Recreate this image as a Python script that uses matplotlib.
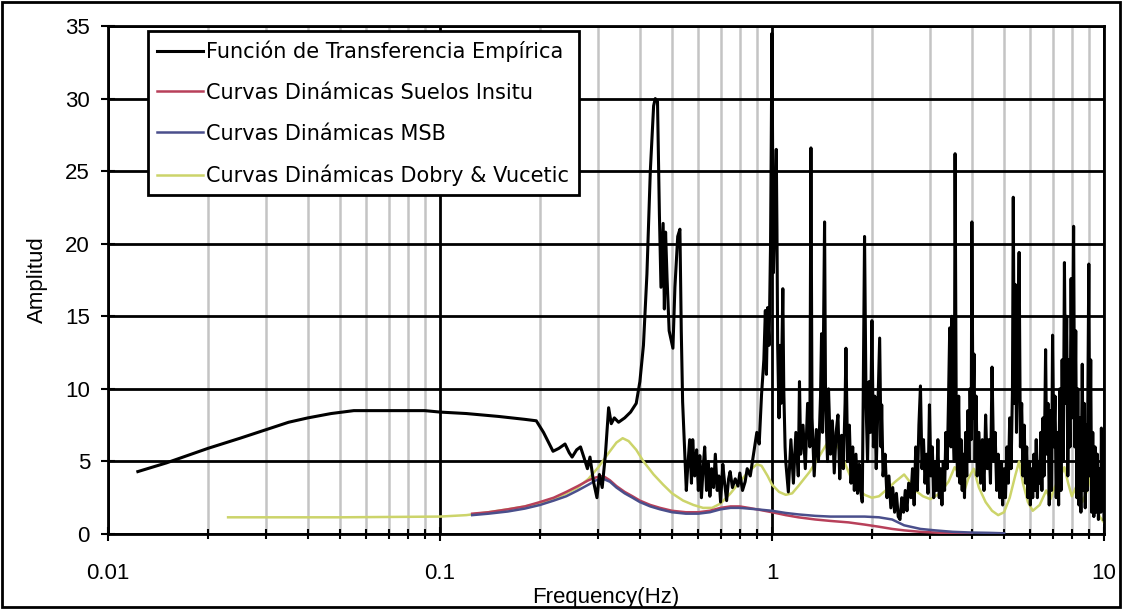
import matplotlib
matplotlib.use("Agg")
import matplotlib.pyplot as plt
from matplotlib.ticker import FixedLocator, FixedFormatter, NullFormatter
from matplotlib.patches import Rectangle

# ---- data ----
emp_freq = [0.0123, 0.015, 0.02, 0.025, 0.03, 0.035, 0.04, 0.047, 0.055, 0.07,
            0.09, 0.1, 0.12, 0.15, 0.18, 0.195, 0.205, 0.219, 0.228, 0.238,
            0.245, 0.25, 0.258, 0.265, 0.272, 0.278, 0.283, 0.29, 0.297, 0.302,
            0.308, 0.315, 0.322, 0.328, 0.335, 0.345, 0.36, 0.375, 0.39, 0.40,
            0.41, 0.42, 0.43, 0.44, 0.445, 0.452, 0.458, 0.463, 0.47, 0.474,
            0.478, 0.483, 0.49, 0.503, 0.51, 0.52, 0.528, 0.533, 0.538, 0.545,
            0.552, 0.557, 0.565, 0.572, 0.577, 0.585, 0.593, 0.60, 0.606, 0.613,
            0.62, 0.627, 0.635, 0.643, 0.65, 0.658, 0.667, 0.675, 0.684, 0.692,
            0.70, 0.711, 0.72, 0.73, 0.74, 0.748, 0.76, 0.775, 0.79, 0.80,
            0.815, 0.83, 0.842, 0.86, 0.88, 0.90, 0.915, 0.93, 0.945, 0.955,
            0.962, 0.97, 0.98, 0.99, 0.995, 1.0, 1.005, 1.01, 1.02, 1.03,
            1.035, 1.04, 1.05, 1.057, 1.065, 1.078, 1.085, 1.095,
            1.10, 1.12, 1.14, 1.16, 1.18, 1.20, 1.21, 1.22, 1.24, 1.26,
            1.28, 1.30, 1.31, 1.32, 1.34, 1.36, 1.38, 1.40, 1.41, 1.42,
            1.44, 1.45, 1.47, 1.48, 1.50, 1.52, 1.54, 1.56, 1.58, 1.60,
            1.62, 1.64, 1.66, 1.67, 1.69, 1.71, 1.73, 1.75, 1.77, 1.79,
            1.81, 1.83, 1.85, 1.87, 1.88, 1.90, 1.92, 1.94, 1.96, 1.98,
            2.00, 2.02, 2.04, 2.06, 2.08, 2.11, 2.13, 2.14, 2.16, 2.19,
            2.22, 2.25, 2.28, 2.31, 2.34, 2.37, 2.40, 2.43, 2.46, 2.49,
            2.52, 2.55, 2.58, 2.62, 2.65, 2.68, 2.71, 2.74, 2.77, 2.80,
            2.83, 2.86, 2.89, 2.92, 2.95, 2.98, 3.01, 3.04, 3.07, 3.10,
            3.13, 3.16, 3.19, 3.22, 3.25, 3.28, 3.31, 3.34, 3.37, 3.40,
            3.43, 3.46, 3.48, 3.51, 3.54, 3.56, 3.59, 3.62, 3.65, 3.68,
            3.71, 3.74, 3.77, 3.80, 3.83, 3.86, 3.89, 3.92, 3.95, 3.98,
            4.00, 4.03, 4.06, 4.09, 4.12, 4.15, 4.20, 4.25, 4.30, 4.35,
            4.40, 4.45, 4.50, 4.55, 4.60, 4.65, 4.70, 4.75, 4.80, 4.85,
            4.90, 4.95, 5.00, 5.05, 5.10, 5.15, 5.20, 5.25, 5.30, 5.33,
            5.37, 5.40, 5.45, 5.50, 5.55, 5.60, 5.65, 5.70, 5.75, 5.80,
            5.85, 5.90, 5.95, 6.00, 6.05, 6.10, 6.15, 6.20, 6.25, 6.30,
            6.35, 6.40, 6.45, 6.50, 6.55, 6.60, 6.67, 6.72, 6.78, 6.84,
            6.90, 6.95, 7.00, 7.06, 7.12, 7.18, 7.24, 7.30, 7.36, 7.42,
            7.48, 7.54, 7.60, 7.66, 7.72, 7.78, 7.84, 7.90, 7.96, 8.02,
            8.10, 8.16, 8.22, 8.28, 8.34, 8.40, 8.46, 8.52, 8.60, 8.66,
            8.72, 8.78, 8.84, 8.90, 9.00, 9.06, 9.12, 9.18, 9.25, 9.32,
            9.40, 9.47, 9.55, 9.62, 9.70, 9.78, 9.82, 9.88, 9.94, 10.0]
emp_amp = [4.3, 4.9, 5.9, 6.6, 7.2, 7.7, 8.0, 8.3, 8.5, 8.5,
           8.5, 8.4, 8.3, 8.1, 7.9, 7.8, 7.0, 5.7, 5.9, 6.2,
           5.6, 5.3, 5.8, 6.0, 5.2, 4.5, 5.3, 3.6, 2.5, 4.1,
           3.2, 5.5, 8.7, 7.6, 8.0, 7.7, 8.0, 8.4, 9.0, 10.5,
           13.0, 17.9, 25.0, 29.5, 30.0, 29.8, 22.0, 17.0, 21.4, 15.5,
           20.8, 17.6, 14.0, 12.8, 17.0, 20.5, 21.0, 14.0, 9.1, 6.0,
           3.0, 4.5, 6.5, 3.5, 6.5, 4.0, 5.8, 3.0, 5.4, 2.5,
           4.5, 6.0, 3.0, 5.0, 2.6, 4.5, 3.2, 5.5, 3.0, 4.0,
           2.2, 4.8, 3.5, 2.3, 3.8, 4.3, 3.2, 3.8, 3.3, 4.2,
           3.0, 3.6, 4.5, 4.0, 5.5, 7.0, 6.2, 9.6, 12.0, 15.4,
           11.0, 15.6, 13.0, 20.0, 27.0, 34.5, 25.0, 18.0, 22.0, 26.5,
           21.0, 13.0, 8.0, 13.0, 9.0, 16.9, 10.0, 6.0,
           5.0, 2.9, 6.5, 3.5, 7.0, 4.0, 10.5, 5.5, 7.5, 4.5,
           9.0, 6.0, 26.6, 8.0, 4.0, 7.2, 5.0, 9.5, 13.8, 7.0,
           21.5, 9.0, 5.0, 10.0, 5.5, 7.8, 4.2, 7.0, 8.2, 3.8,
           6.8, 4.5, 9.0, 12.8, 5.0, 7.5, 3.5, 6.0, 3.0, 5.5,
           2.8, 4.8, 3.0, 2.2, 8.0, 20.5, 9.0, 5.0, 10.5, 7.0,
           14.7, 6.0, 9.5, 4.5, 8.0, 13.5, 6.0, 8.9, 4.0, 5.5,
           2.5, 4.0, 1.8, 3.2, 1.5, 2.8, 1.2, 1.0, 2.5, 1.5,
           3.0, 1.6, 3.5, 2.5, 4.5, 2.0, 6.0, 3.0, 7.5, 10.2,
           4.5, 6.5, 3.5, 5.5, 2.8, 8.9, 4.0, 6.0, 2.5, 5.0,
           3.0, 6.5, 2.5, 4.5, 2.0, 5.0, 3.0, 7.0, 4.5, 9.0,
           14.2, 6.0, 15.0, 8.0, 5.0, 26.2, 7.5, 4.0, 9.5, 3.5,
           6.5, 3.0, 5.5, 2.5, 7.0, 4.0, 8.5, 5.0, 10.0, 6.5,
           21.5, 8.0, 12.4, 5.0, 9.5, 4.0, 7.0, 3.5, 6.5, 3.0,
           8.2, 4.5, 6.5, 3.5, 11.5, 5.0, 7.0, 3.0, 5.5, 2.5,
           5.0, 2.0, 4.5, 2.5, 6.0, 3.5, 8.0, 4.5, 10.0, 23.2,
           9.0, 17.2, 7.0, 12.0, 19.4, 6.0, 9.0, 4.0, 7.5, 3.5,
           6.0, 2.5, 5.0, 2.0, 4.5, 2.5, 5.5, 3.0, 6.5, 2.5,
           5.0, 3.5, 7.0, 3.0, 8.0, 4.0, 12.7, 5.5, 9.0, 2.0,
           8.5, 3.0, 13.7, 6.0, 9.5, 2.5, 7.0, 2.0, 10.0, 3.0,
           12.0, 5.0, 18.7, 9.0, 15.0, 4.0, 12.0, 6.0, 17.6, 8.0,
           21.2, 6.0, 14.0, 2.5, 10.0, 2.0, 8.0, 1.5, 11.7, 3.0,
           9.0, 1.8, 7.5, 3.0, 18.6, 4.0, 12.0, 1.5, 7.0, 1.2,
           6.0, 1.5, 5.5, 1.0, 4.5, 1.5, 7.3, 2.0, 6.5, 1.0]

insitu_freq = [0.125, 0.14, 0.16, 0.18, 0.2, 0.22, 0.24, 0.26, 0.28, 0.295,
               0.31, 0.325, 0.34, 0.36, 0.38, 0.4, 0.43, 0.46, 0.5, 0.55,
               0.6, 0.65, 0.7, 0.75, 0.8, 0.85, 0.9, 1.0, 1.1, 1.2,
               1.35, 1.5, 1.7, 1.9, 2.1, 2.3, 2.5, 2.8, 3.1, 3.5, 4.0]
insitu_amp = [1.4, 1.5, 1.7, 1.9, 2.2, 2.5, 2.9, 3.3, 3.7, 3.9,
              4.0, 3.7, 3.3, 2.9, 2.6, 2.3, 2.0, 1.8, 1.6, 1.5,
              1.5, 1.6, 1.8, 1.9, 1.9, 1.8, 1.7, 1.5, 1.3, 1.15,
              1.0, 0.9, 0.8, 0.65, 0.5, 0.35, 0.25, 0.15, 0.1, 0.05, 0.0]

msb_freq = [0.125, 0.14, 0.16, 0.18, 0.2, 0.22, 0.24, 0.26, 0.28, 0.295,
            0.31, 0.325, 0.34, 0.36, 0.38, 0.4, 0.43, 0.46, 0.5, 0.55,
            0.6, 0.65, 0.7, 0.75, 0.8, 0.85, 0.9, 1.0, 1.1, 1.2,
            1.35, 1.5, 1.7, 1.9, 2.1, 2.3, 2.5, 2.8, 3.1, 3.5,
            4.0, 4.5, 5.0]
msb_amp = [1.3, 1.4, 1.55, 1.75, 2.0, 2.3, 2.6, 3.0, 3.4, 3.7,
           3.8, 3.6, 3.2, 2.8, 2.5, 2.2, 1.9, 1.7, 1.5, 1.4,
           1.4, 1.5, 1.7, 1.8, 1.8, 1.75, 1.7, 1.6, 1.45, 1.35,
           1.25, 1.2, 1.2, 1.2, 1.15, 1.0, 0.6, 0.35, 0.25, 0.15,
           0.1, 0.08, 0.05]

dv_freq = [0.023, 0.05, 0.1, 0.12, 0.14, 0.16, 0.18, 0.2, 0.22, 0.24,
           0.26, 0.28, 0.30, 0.32, 0.34, 0.355, 0.37, 0.39, 0.41, 0.44,
           0.47, 0.5, 0.54, 0.58, 0.62, 0.66, 0.7, 0.75, 0.8, 0.85,
           0.9, 0.93, 0.97, 1.0, 1.05, 1.1, 1.15, 1.2, 1.3, 1.4,
           1.47, 1.52, 1.58, 1.65, 1.72, 1.8, 1.9, 2.0, 2.1, 2.2,
           2.35, 2.5, 2.6, 2.7, 2.85, 3.0, 3.2, 3.4, 3.55, 3.65,
           3.8, 3.9, 4.05, 4.2, 4.4, 4.6, 4.8, 5.0, 5.2, 5.4,
           5.55, 5.7, 5.9, 6.1, 6.4, 6.7, 6.9, 7.1, 7.4, 7.6,
           7.8, 8.0, 8.3, 8.6, 8.9, 9.1, 9.4, 9.7, 10.0]
dv_amp = [1.15, 1.15, 1.2, 1.3, 1.5, 1.7, 1.9, 2.1, 2.4, 2.8,
          3.2, 3.8, 4.6, 5.5, 6.3, 6.6, 6.4, 5.8, 5.0, 4.1,
          3.4, 2.8, 2.3, 2.0, 1.8, 1.8, 2.1, 2.8, 3.6, 4.3,
          4.8, 4.7, 4.0, 3.4, 2.9, 2.7, 2.8, 3.3, 4.3, 5.5,
          6.3, 6.5, 6.0, 5.0, 4.0, 3.2, 2.7, 2.5, 2.6, 3.0,
          3.6, 4.1, 3.6, 3.0, 2.6, 2.4, 2.8, 3.6, 4.6, 4.2,
          3.0, 3.8, 4.5, 3.2, 2.2, 1.6, 1.3, 1.5, 2.5, 4.0,
          5.0, 3.5, 2.2, 1.6, 2.0, 3.0, 2.4, 3.2, 4.0, 4.6,
          3.5, 2.6, 3.4, 2.2, 3.0, 4.0, 2.0, 1.2, 0.8]

series_labels = ["Función de Transferencia Empírica",
                 "Curvas Dinámicas Suelos Insitu",
                 "Curvas Dinámicas MSB",
                 "Curvas Dinámicas Dobry & Vucetic"]

x_ticks = [0.01, 0.1, 1, 10]
x_tick_labels = ["0.01", "0.1", "1", "10"]
y_ticks = [0, 5, 10, 15, 20, 25, 30, 35]

plt.rcParams['font.family'] = ['Liberation Sans', 'DejaVu Sans']

fig = plt.figure(figsize=(11.22, 6.09), dpi=100)
ax = fig.add_axes([108 / 1122, 1 - 534 / 609, 996 / 1122, 508 / 609])

line_emp, = ax.plot(emp_freq, emp_amp, color="black", lw=2.2, zorder=4)
line_ins, = ax.plot(insitu_freq, insitu_amp, color="#b8405a", lw=1.8, zorder=3)
line_msb, = ax.plot(msb_freq, msb_amp, color="#4a4f8c", lw=1.8, zorder=3)
line_dv, = ax.plot(dv_freq, dv_amp, color="#ccd46a", lw=1.8, zorder=2)

ax.set_xscale("log")
ax.set_xlim(0.01, 10)
ax.set_ylim(0, 35)

ax.xaxis.set_major_locator(FixedLocator(x_ticks))
ax.xaxis.set_major_formatter(FixedFormatter(x_tick_labels))
ax.xaxis.set_minor_formatter(NullFormatter())
ax.set_yticks(y_ticks)

ax.grid(True, which="major", color="black", lw=2, zorder=1)
ax.grid(True, which="minor", axis="x", color="#c4c4c4", lw=1.8, zorder=0)
ax.set_axisbelow(True)

ax.tick_params(axis="both", which="major", direction="inout", length=10,
               width=1.5, labelsize=16, pad=8)
ax.tick_params(axis="x", which="major", pad=16)
ax.tick_params(axis="x", which="minor", direction="inout", length=7, width=1.5)
ax.tick_params(axis="y", which="minor", left=False)

for s in ax.spines.values():
    s.set_linewidth(2)

ax.set_xlabel("Frequency(Hz)", fontsize=16, labelpad=2)
ax.set_ylabel("Amplitud", fontsize=16, labelpad=12)

leg = ax.legend([line_emp, line_ins, line_msb, line_dv], series_labels,
                loc="upper left", bbox_to_anchor=(0.04, 0.99),
                prop={"family": "DejaVu Sans", "size": 15},
                frameon=True, fancybox=False, framealpha=1,
                edgecolor="black", handlelength=2.2, handletextpad=0.15,
                labelspacing=1.0, borderpad=0.45, borderaxespad=0)
leg.get_frame().set_linewidth(2)
leg.set_zorder(10)

# outer chart border
fig.patches.append(Rectangle((0.002, 0.003), 0.996, 0.994, transform=fig.transFigure,
                             fill=False, edgecolor="black", lw=2))

fig.savefig("out.png", dpi=100)
